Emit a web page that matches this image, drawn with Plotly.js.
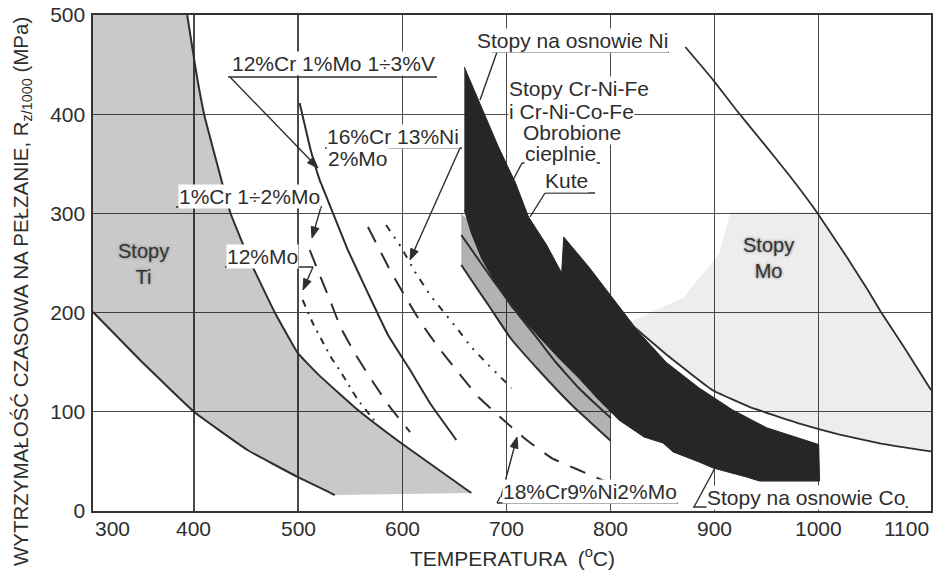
<!DOCTYPE html>
<html><head><meta charset="utf-8">
<script src="https://cdn.plot.ly/plotly-3.0.1.min.js"></script>
<style>html,body{margin:0;padding:0;background:#fff;}#chart{width:934px;height:571px;}</style>
</head><body><div id="chart"></div>
<script>
// ---------- data ----------
const xTickValues = [300, 400, 500, 600, 700, 800, 900, 1000, 1100];
const xTickLabels = ['300', '400', '500', '600', '700', '800', '900', '1000', '1100'];
const xGridValues = [400, 500, 600, 700, 800, 900, 1000];
const yTickValues = [0, 100, 200, 300, 400, 500];
const yTickLabels = ['0', '100', '200', '300', '400', '500'];

// Stopy Ti band
const tiUpperX = [393.5, 401.8, 409.9, 422.5, 435.0, 454.3, 477.4, 499.6, 520.0, 557.5, 598.9, 666.4];
const tiUpperY = [500, 444.5, 399.2, 348.8, 300.4, 251.0, 200.6, 159.3, 137.0, 101.8, 68.5, 18.1];
const tiLowerX = [303, 348.2, 400.3, 451.4, 499.6, 535.3];
const tiLowerY = [200.6, 152.2, 99.8, 61.5, 34.3, 16.1];

// steels
const cr12MoVX = [501.5, 512.1, 520.8, 528.5, 547.8, 567.1, 586.4, 607.6, 627.9, 652.0];
const cr12MoVY = [411.3, 363.9, 333.6, 313.5, 263.1, 219.7, 177.4, 142.1, 106.8, 71.6];
const cr1Mo2X = [511.2, 518.9, 530.5, 541.1, 555.5, 571.9, 588.3, 607.6];
const cr1Mo2Y = [263.1, 242.9, 212.7, 184.5, 157.2, 130.0, 104.8, 79.6];
const mo12X = [504.4, 514.1, 523.7, 531.4, 541.1, 549.8, 557.5, 569.0, 576.8];
const mo12Y = [212.7, 189.5, 170.4, 155.2, 140.1, 125.0, 111.9, 96.8, 86.7];
const cr16Ni13X = [584.5, 598.9, 612.4, 626.9, 642.3, 653.9, 666.4, 682.8, 694.4, 705.0];
const cr16Ni13Y = [288.3, 266.1, 240.9, 217.7, 197.6, 182.4, 165.3, 147.2, 135.1, 124.0];
const cr18Ni9X = [567.1, 589.3, 603.8, 618.2, 634.6, 652.0, 673.2, 697.3, 719.5, 743.6, 769.6, 796.6];
const cr18Ni9Y = [286.3, 240.9, 214.7, 189.5, 165.3, 142.1, 114.9, 91.7, 71.6, 53.4, 41.3, 29.2];

// Cr-Ni-Fe band (Obrobione cieplnie / Kute)
const crNiFeUpperX = [656.8, 685.7, 711.8, 731.0, 747.4, 769.6, 788.9, 800.5];
const crNiFeUpperY = [278.2, 234.9, 197.6, 172.4, 150.2, 124.0, 104.8, 93.7];
const crNiFeLowerX = [656.8, 666.4, 682.8, 704.0, 731.0, 762.9, 788.9, 800.0];
const crNiFeLowerY = [248.0, 232.8, 207.6, 174.4, 142.1, 106.8, 81.6, 71.0];
const crNiFeTopX = [800.0, 788.9, 769.6, 750.3, 728.1, 705.0, 689.6, 676.1, 666.4, 656.8];
const crNiFeTopY = [120, 125, 145, 165, 190, 215, 240, 265, 290, 300];

// Ni / Co superalloys (dark band outline)
const niCoX = [659.7, 673.2, 692.5, 708.9, 721.4, 738.8, 753.2, 755.2, 779.3, 801.4, 827.5, 853.5, 885.3, 917.2, 949.9, 1000.1,
               1001.0, 943.2, 930.7, 898.8, 885.3, 860.3, 850.6, 832.3, 808.2, 788.9, 769.6, 750.3, 728.1, 705.0, 689.6, 676.1, 666.4, 659.7];
const niCoY = [447.6, 414.3, 366.9, 330.6, 296.4, 268.1, 239.9, 276.2, 246.0, 215.7, 180.0, 150.0, 124.0, 102.0, 84.0, 67.0,
               30.2, 30.2, 34.3, 43.3, 49.4, 59.5, 68.5, 74.6, 91.7, 111.9, 134.1, 154.2, 179.4, 205.6, 229.8, 255.0, 280.2, 303.4];

// Stopy Mo band
const moUpperX = [872.0, 898.8, 921.0, 947.0, 973.1, 998.2, 1027.1, 1047.3, 1059.9, 1082.0, 1108];
const moUpperY = [467.7, 434.4, 404.2, 370.9, 336.7, 301.4, 256.0, 222.8, 200.6, 165.3, 122.0];
const moLowerX = [817.8, 853.5, 897.9, 933.5, 981.8, 1020.3, 1059.9, 1108];
const moLowerY = [190.0, 158.0, 122.0, 105.0, 88.0, 77.0, 68.0, 60.0];
const moShadeLeftX = [870, 905, 915];
const moShadeLeftY = [215, 260, 301];

// ---------- layout helpers ----------
const xRange = [303, 1108];
const yRange = [0, 500];
const M = {l: 93, r: 3, t: 15, b: 60};
const W = 934, H = 571;
const pw = W - M.l - M.r, ph = H - M.t - M.b;
const X = px => xRange[0] + (px - M.l) * (xRange[1] - xRange[0]) / pw;
const Y = py => yRange[0] + (H - M.b - py) * (yRange[1] - yRange[0]) / ph;

const FONT = 'Liberation Sans, Arial, Helvetica, sans-serif';
const INK = '#2e2e2e';

function lineTrace(xs, ys, dash, width) {
  return {x: xs, y: ys, type: 'scatter', mode: 'lines', hoverinfo: 'skip',
          line: {color: INK, width: width || 2, dash: dash || 'solid', shape: 'spline', smoothing: 0.3}};
}
function fillTrace(xs, ys, color, lineColor) {
  return {x: xs, y: ys, type: 'scatter', mode: 'lines', fill: 'toself', fillcolor: color, hoverinfo: 'skip',
          line: {color: lineColor || 'rgba(0,0,0,0)', width: lineColor ? 1 : 0}};
}

const traces = [
  fillTrace(moUpperX.slice(5).concat([xRange[1]], moLowerX.slice().reverse(), moShadeLeftX),
            moUpperY.slice(5).concat([moLowerY[moLowerY.length - 1]], moLowerY.slice().reverse(), moShadeLeftY),
            'rgba(0,0,0,0.07)'),
  fillTrace(tiLowerX.concat(tiUpperX.slice().reverse(), [xRange[0]]),
            tiLowerY.concat(tiUpperY.slice().reverse(), [yRange[1]]),
            'rgba(0,0,0,0.21)'),
  fillTrace(crNiFeLowerX.concat(crNiFeTopX), crNiFeLowerY.concat(crNiFeTopY), 'rgba(0,0,0,0.30)'),
  fillTrace(niCoX, niCoY, '#262626', '#262626'),
  lineTrace(tiUpperX, tiUpperY),
  lineTrace(tiLowerX, tiLowerY),
  lineTrace(moUpperX, moUpperY, 'solid', 1.8),
  lineTrace(moLowerX, moLowerY, 'solid', 1.8),
  lineTrace(cr12MoVX, cr12MoVY),
  lineTrace(cr1Mo2X, cr1Mo2Y, '17px,12px'),
  lineTrace(mo12X, mo12Y, '7px,6px,2px,6px'),
  lineTrace(cr16Ni13X, cr16Ni13Y, '7px,7px,2px,7px,2px,7px'),
  lineTrace(cr18Ni9X, cr18Ni9Y, '17px,12px'),
  lineTrace(crNiFeUpperX, crNiFeUpperY),
  lineTrace(crNiFeLowerX, crNiFeLowerY)
];

// ---------- annotations and leader lines ----------
const ann = [];
const shapes = [];
function label(text, px, py, opt) {
  opt = opt || {};
  ann.push(Object.assign({
    text: text, x: X(px), y: Y(py), xref: 'x', yref: 'y', showarrow: false,
    xanchor: 'center', yanchor: 'middle',
    font: {family: FONT, size: 21, color: INK},
    bgcolor: 'rgba(255,255,255,1)', borderpad: 0
  }, opt));
}
function seg(p1x, p1y, p2x, p2y) {
  shapes.push({type: 'line', xref: 'x', yref: 'y', x0: X(p1x), y0: Y(p1y), x1: X(p2x), y1: Y(p2y),
               line: {color: INK, width: 1.4}, layer: 'above'});
}
function arrow(tailPx, tailPy, tipPx, tipPy) {
  const dx = tipPx - tailPx, dy = tipPy - tailPy, L = Math.hypot(dx, dy);
  const ux = dx / L, uy = dy / L, hl = 11, hw = 4;
  const bx = tipPx - ux * hl, by = tipPy - uy * hl;
  seg(tailPx, tailPy, bx + ux * 2, by + uy * 2);
  const p = [[tipPx, tipPy], [bx - uy * hw, by + ux * hw], [bx + uy * hw, by - ux * hw]];
  shapes.push({type: 'path', xref: 'x', yref: 'y', layer: 'above', fillcolor: INK, line: {color: INK, width: 1},
               path: 'M' + p.map(q => X(q[0]) + ',' + Y(q[1])).join('L') + 'Z'});
}

// x tick labels
xTickValues.forEach((v, i) => {
  let x = v, xa = 'center';
  if (i === 0) { x = xRange[0]; xa = 'left'; }
  if (i === xTickValues.length - 1) { x = xRange[1]; xa = 'right'; }
  ann.push({text: xTickLabels[i], x: x, y: 0, xref: 'x', yref: 'paper', xanchor: xa, yanchor: 'top',
            yshift: -4, showarrow: false, font: {family: FONT, size: 21, color: INK}});
});
// axis titles
ann.push({text: 'TEMPERATURA  (<sup>o</sup>C)', xref: 'paper', yref: 'paper', x: 0.5, y: (H - M.b - 557) / ph,
          yanchor: 'middle', showarrow: false, font: {family: FONT, size: 21, color: INK}});
ann.push({text: 'WYTRZYMAŁOŚĆ CZASOWA NA PEŁZANIE, R<sub>z/1000</sub> (MPa)', xref: 'paper', yref: 'paper',
          x: 0, y: (H - M.b - 292) / ph, xanchor: 'center', yanchor: 'middle', xshift: -71, textangle: -90,
          showarrow: false, font: {family: FONT, size: 20.5, color: INK}});

// chart labels
label('12%Cr 1%Mo 1÷3%V', 333, 63);
seg(228, 77, 437, 77); arrow(230, 77, 318, 168);
label('16%Cr 13%Ni', 393, 136);
label('2%Mo', 327, 158, {xanchor: 'left'});
seg(325, 148, 462, 148); arrow(460, 148, 410, 260);
label('1%Cr 1÷2%Mo', 249, 196);
seg(176, 207, 322, 207); arrow(321, 207, 312, 238);
label('12%Mo', 262, 256);
seg(225, 267, 313, 267); arrow(313, 267, 303, 290);
label('18%Cr9%Ni2%Mo', 590, 491);
seg(497, 503, 678, 503); seg(497, 503, 500, 497); arrow(501, 497, 517, 437);
label('Stopy na osnowie Co', 806, 497);
seg(693, 507, 908, 507); seg(694, 507, 715, 468);
label('Stopy na osnowie Ni', 572, 40);
seg(492, 52, 669, 52); seg(497, 52, 480, 100);
label('Stopy Cr-Ni-Fe', 579, 88);
label('i Cr-Ni-Co-Fe', 571, 111);
label('Obrobione', 572, 132);
label('cieplnie', 560, 153);
seg(522, 163, 600, 163); seg(522, 163, 512, 182);
label('Kute', 566, 180);
seg(545, 193, 595, 193); seg(545, 193, 530, 217);
const halo = {family: FONT, size: 20, color: '#333', shadow: '0px 0px 3px #777'};
label('Stopy<br>Ti', 143, 264, {bgcolor: 'rgba(0,0,0,0)', font: halo});
label('Stopy<br>Mo', 768, 258, {bgcolor: 'rgba(0,0,0,0)', font: halo});

const axisCommon = {ticks: '', showgrid: true, gridcolor: '#4a4a4a', gridwidth: 1.3, showline: true, mirror: true,
                    linecolor: '#333', linewidth: 1.6, zeroline: false, fixedrange: true};
const layout = {
  width: W, height: H, margin: M, paper_bgcolor: '#fff', plot_bgcolor: '#fff', showlegend: false,
  font: {family: FONT, color: INK, size: 20},
  xaxis: Object.assign({range: xRange, tickvals: xGridValues, showticklabels: false}, axisCommon),
  yaxis: Object.assign({range: yRange, tickvals: yTickValues, ticktext: yTickLabels,
                        tickfont: {family: FONT, size: 21, color: INK}, ticklabelstandoff: 2}, axisCommon),
  shapes: shapes, annotations: ann
};
Plotly.newPlot('chart', traces, layout, {staticPlot: true, displayModeBar: false});
</script></body></html>
